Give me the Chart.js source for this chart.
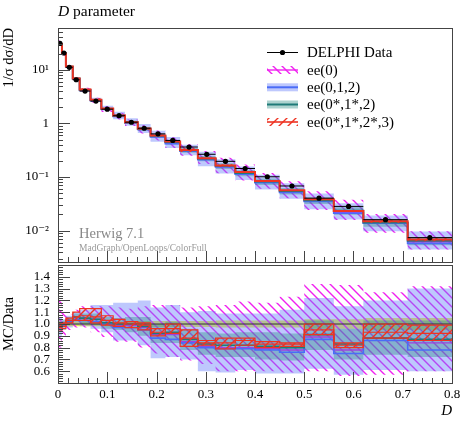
<!DOCTYPE html>
<html>
<head>
<meta charset="utf-8">
<script src="https://cdn.jsdelivr.net/npm/chart.js@4.4.0/dist/chart.umd.min.js"></script>
<style>
  body { margin: 0; background: #fff; }
  #main { position: absolute; left: 0; top: 0; width: 467px; height: 266px; }
  #ratio { position: absolute; left: 0; top: 260px; width: 467px; height: 162px; }
</style>
</head>
<body>
<div id="main"><canvas id="mainCanvas"></canvas></div>
<div id="ratio"><canvas id="ratioCanvas"></canvas></div>
<script>
// bin edges of the D parameter histogram
const edges = [0, 0.008, 0.016, 0.030, 0.044, 0.066, 0.088, 0.112, 0.136, 0.162, 0.188,
               0.218, 0.248, 0.284, 0.320, 0.360, 0.400, 0.450, 0.500, 0.560, 0.620, 0.710, 0.800];

// DELPHI data, 1/sigma dsigma/dD and relative error
const delphi = [31, 20.5, 11.1, 6.5, 4.0, 2.6, 1.84, 1.39, 1.05, 0.81, 0.637,
                0.48, 0.362, 0.265, 0.196, 0.144, 0.101, 0.068, 0.0403, 0.0283, 0.016, 0.0074];
const delphiErr = [0.03, 0.02, 0.02, 0.02, 0.02, 0.02, 0.02, 0.02, 0.02, 0.025, 0.025,
                   0.025, 0.025, 0.025, 0.03, 0.03, 0.03, 0.03, 0.04, 0.04, 0.05, 0.05];

// MC / Data ratios (central, band low, band high)
const ee0Ratio = [0.99, 1.0, 1.02, 1.04, 1.05, 1.04, 1.01, 0.99, 0.99, 0.97, 0.91,
                  0.91, 0.85, 0.81, 0.8, 0.8, 0.79, 0.78, 0.89, 0.78, 0.88, 0.84];
const ee0Lo = [0.8, 0.9, 0.95, 0.97, 0.97, 0.93, 0.89, 0.85, 0.85, 0.8, 0.75,
               0.72, 0.69, 0.66, 0.6, 0.6, 0.6, 0.59, 0.6, 0.56, 0.57, 0.6];
const ee0Hi = [1.21, 1.1, 1.08, 1.12, 1.15, 1.15, 1.15, 1.14, 1.13, 1.15, 1.16,
               1.16, 1.14, 1.15, 1.16, 1.19, 1.18, 1.23, 1.34, 1.33, 1.27, 1.32];

const ee012Ratio = [0.97, 0.99, 1.02, 1.04, 1.03, 1.02, 1.0, 0.97, 0.97, 0.95, 0.88,
                    0.87, 0.84, 0.8, 0.79, 0.79, 0.78, 0.76, 0.87, 0.75, 0.86, 0.78];
const ee012Lo = [0.9, 0.95, 0.97, 0.99, 0.98, 0.96, 0.93, 0.86, 0.86, 0.82, 0.71,
                 0.72, 0.7, 0.6, 0.59, 0.61, 0.58, 0.58, 0.62, 0.57, 0.61, 0.6];
const ee012Hi = [1.06, 1.04, 1.07, 1.1, 1.12, 1.16, 1.16, 1.18, 1.18, 1.2, 1.14,
                 1.16, 1.1, 1.11, 1.09, 1.09, 1.09, 1.12, 1.22, 1.15, 1.2, 1.3];

const ee012sRatio = [0.98, 1.0, 1.03, 1.06, 1.05, 1.04, 1.01, 1.0, 1.0, 0.98, 0.92,
                     0.93, 0.87, 0.83, 0.82, 0.82, 0.81, 0.8, 0.91, 0.83, 0.88, 0.87];
const ee012sLo = [0.95, 0.97, 1.0, 1.02, 1.0, 0.99, 0.96, 0.95, 0.93, 0.9, 0.84,
                  0.84, 0.78, 0.74, 0.72, 0.72, 0.7, 0.69, 0.78, 0.7, 0.74, 0.72];
const ee012sHi = [1.01, 1.03, 1.06, 1.09, 1.09, 1.09, 1.06, 1.05, 1.06, 1.06, 1.0,
                  1.02, 0.96, 0.93, 0.92, 0.93, 0.93, 0.92, 1.03, 0.96, 1.03, 1.03];

const ee0123Ratio = [0.97, 0.98, 1.03, 1.06, 1.07, 1.06, 1.03, 1.01, 1.0, 0.99, 0.93,
                     0.96, 0.88, 0.84, 0.84, 0.86, 0.83, 0.83, 0.95, 0.82, 0.93, 0.92];
const ee0123Lo = [0.95, 0.96, 1.01, 1.03, 1.03, 1.01, 0.99, 0.98, 0.97, 0.95, 0.9,
                  0.92, 0.81, 0.82, 0.79, 0.82, 0.8, 0.81, 0.91, 0.8, 0.88, 0.86];
const ee0123Hi = [1.0, 1.01, 1.05, 1.1, 1.13, 1.13, 1.07, 1.04, 1.02, 1.01, 0.96,
                  1.0, 0.95, 0.86, 0.88, 0.88, 0.85, 0.84, 1.0, 0.84, 1.0, 0.99];

const legendLabels = ['DELPHI Data', 'ee(0)', 'ee(0,1,2)', 'ee(0*,1*,2)', 'ee(0*,1*,2*,3)'];

const FONT = "'Liberation Serif', 'DejaVu Serif', serif";
Chart.defaults.font.family = FONT;
Chart.defaults.font.size = 13;
Chart.defaults.color = '#000';

const MAGENTA = '#f020f0', BLUE = '#4a6cf7', TEAL = '#1f7a78', RED = '#ee3322';
const BLUE_BAND = 'rgba(100,125,250,0.42)', TEAL_BAND = 'rgba(40,140,130,0.38)';

function hatch(color, dir, size, width) {
    const c = document.createElement('canvas');
    c.width = size; c.height = size;
    const g = c.getContext('2d');
    g.strokeStyle = color; g.lineWidth = width;
    g.beginPath();
    if (dir > 0) {
        g.moveTo(0, size); g.lineTo(size, 0);
        g.moveTo(-size/2, size/2); g.lineTo(size/2, -size/2);
        g.moveTo(size/2, size*1.5); g.lineTo(size*1.5, size/2);
    } else {
        g.moveTo(0, 0); g.lineTo(size, size);
        g.moveTo(-size/2, size/2); g.lineTo(size/2, size*1.5);
        g.moveTo(size/2, -size/2); g.lineTo(size*1.5, size/2);
    }
    g.stroke();
    return g.createPattern(c, 'repeat');
}
const magHatch = hatch(MAGENTA, -1, 9, 1.4);
const redHatch = hatch(RED, 1, 9, 1.4);

function steps(vals) {
    let pts = vals.map((v, i) => ({x: edges[i], y: v}));
    pts.push({x: edges[edges.length - 1], y: vals[vals.length - 1]});
    return pts;
}
function histLine(vals, color, width, order) {
    return {data: steps(vals), borderColor: color, borderWidth: width, pointRadius: 0,
            stepped: true, fill: false, order: order};
}
function histBand(lo, hi, fillStyle, order, edge) {
    return [
        {data: steps(lo), borderColor: edge || 'rgba(0,0,0,0)', borderWidth: edge ? 1.2 : 0,
         pointRadius: 0, stepped: true, fill: false, order: order},
        {data: steps(hi), borderColor: edge || 'rgba(0,0,0,0)', borderWidth: edge ? 1.2 : 0,
         pointRadius: 0, stepped: true, fill: '-1', backgroundColor: fillStyle, order: order}
    ];
}

// inward ticks and frame
function drawFrame(chart, yTicks) {
    const {ctx, chartArea: a, scales} = chart;
    ctx.save();
    ctx.strokeStyle = '#444';
    ctx.lineWidth = 1;
    ctx.beginPath();
    for (let i = 0; i <= 40; i++) {
        const px = Math.round(scales.x.getPixelForValue(i * 0.02)) + 0.5;
        const len = i % 5 === 0 ? 11 : 5;
        ctx.moveTo(px, a.bottom); ctx.lineTo(px, a.bottom - len);
    }
    yTicks.forEach(t => {
        const py = Math.round(scales.y.getPixelForValue(t.v)) + 0.5;
        if (py < a.top || py > a.bottom) return;
        ctx.moveTo(a.left, py); ctx.lineTo(a.left + (t.major ? 12 : 5), py);
    });
    ctx.stroke();
    ctx.strokeRect(Math.round(a.left) + 0.5, Math.round(a.top) + 0.5,
                   Math.round(a.right - a.left), Math.round(a.bottom - a.top));
    ctx.restore();
}

const logTicks = [];
for (let n = -3; n <= 1; n++) for (let d = 1; d <= 9; d++) logTicks.push({v: d * Math.pow(10, n), major: d === 1});
const linTicks = [];
for (let i = 25; i <= 75; i++) linTicks.push({v: i * 0.02, major: i % 5 === 0});

function drawLegend(ctx) {
    const x0 = 267, x1 = 298, tx = 307, ys = [52.5, 70, 87.3, 104.5, 122];
    ctx.save();
    ctx.strokeStyle = '#000'; ctx.lineWidth = 1;
    ctx.beginPath(); ctx.moveTo(x0, ys[0]); ctx.lineTo(x1, ys[0]); ctx.stroke();
    ctx.fillStyle = '#000'; ctx.beginPath(); ctx.arc((x0 + x1) / 2, ys[0], 2.6, 0, 2 * Math.PI); ctx.fill();
    const sym = [[magHatch, MAGENTA, 1.4], [BLUE_BAND, BLUE, 2], [TEAL_BAND, TEAL, 2], [redHatch, RED, 1.6]];
    sym.forEach((s, i) => {
        const y = ys[i + 1];
        ctx.fillStyle = s[0]; ctx.fillRect(x0, y - 4, x1 - x0, 8);
        ctx.strokeStyle = s[1]; ctx.lineWidth = s[2];
        ctx.beginPath(); ctx.moveTo(x0, y); ctx.lineTo(x1, y); ctx.stroke();
    });
    ctx.fillStyle = '#000'; ctx.font = '15px ' + FONT; ctx.textBaseline = 'middle';
    legendLabels.forEach((l, i) => ctx.fillText(l, tx, ys[i] + 1));
    ctx.restore();
}

const mainDecor = {
    id: 'mainDecor',
    afterDraw(chart) {
        const ctx = chart.ctx;
        drawFrame(chart, logTicks);
        ctx.save();
        ctx.fillStyle = '#000'; ctx.textBaseline = 'alphabetic';
        ctx.font = 'italic 15.5px ' + FONT;
        ctx.fillText('D', 58, 16);
        const w = ctx.measureText('D').width;
        ctx.font = '15.5px ' + FONT;
        ctx.fillText(' parameter', 58 + w, 16);
        ctx.fillStyle = '#888'; ctx.font = '14.5px ' + FONT;
        ctx.fillText('Herwig 7.1', 79, 237.5);
        ctx.fillStyle = '#999'; ctx.font = '9.5px ' + FONT;
        ctx.fillText('MadGraph/OpenLoops/ColorFull', 79, 250.5);
        ctx.restore();
        drawLegend(ctx);
    }
};
const ratioDecor = {
    id: 'ratioDecor',
    afterDraw(chart) { drawFrame(chart, linTicks); }
};

function logLabel(v) {
    const l = Math.log10(v);
    if (Math.abs(l - Math.round(l)) > 1e-6) return '';
    const sup = {'-2': '10⁻²', '-1': '10⁻¹', '0': '1', '1': '10¹'};
    return sup[Math.round(l)] || '';
}

// keep the frame where the layout puts it, labels may overhang
function fixWidth(s) {
    s.width = 58;
    s.paddingTop = 0; s.paddingBottom = 0;
}

const centers = edges.slice(0, -1).map((e, i) => (e + edges[i + 1]) / 2);
const hBars = [], vBars = [];
delphi.forEach((v, i) => {
    hBars.push({x: edges[i], y: v}, {x: edges[i + 1], y: v}, {x: edges[i + 1], y: null});
    vBars.push({x: centers[i], y: v * (1 - delphiErr[i])}, {x: centers[i], y: v * (1 + delphiErr[i])}, {x: centers[i], y: null});
});

const scaled = r => r.map((v, i) => v * delphi[i]);

new Chart(document.getElementById('mainCanvas'), {
    type: 'line',
    data: {
        datasets: [
            ...histBand(scaled(ee0Lo), scaled(ee0Hi), magHatch, 90),
            ...histBand(scaled(ee012Lo), scaled(ee012Hi), BLUE_BAND, 80),
            ...histBand(scaled(ee012sLo), scaled(ee012sHi), TEAL_BAND, 70),
            ...histBand(scaled(ee0123Lo), scaled(ee0123Hi), redHatch, 30),
            histLine(scaled(ee0Ratio), MAGENTA, 1.4, 60),
            histLine(scaled(ee012Ratio), BLUE, 1.8, 50),
            histLine(scaled(ee012sRatio), TEAL, 1.8, 40),
            histLine(scaled(ee0123Ratio), RED, 2, 20),
            {data: hBars, borderColor: '#000', borderWidth: 1, pointRadius: 0, spanGaps: false, order: 5},
            {data: vBars, borderColor: '#000', borderWidth: 1, pointRadius: 0, spanGaps: false, order: 5},
            {data: delphi.map((v, i) => ({x: centers[i], y: v})), showLine: false,
             pointRadius: 2.6, pointBackgroundColor: '#000', pointBorderWidth: 0, order: 1}
        ]
    },
    options: {
        responsive: true, maintainAspectRatio: false, animation: false, events: [],
        layout: {padding: {top: 28, right: 15, bottom: 1, left: 0}},
        plugins: {legend: {display: false}, tooltip: {enabled: false}},
        scales: {
            x: {type: 'linear', min: 0, max: 0.8, display: false},
            y: {
                type: 'logarithmic', min: 0.0026, max: 60,
                afterFit: fixWidth,
                grid: {display: false, drawTicks: false}, border: {display: false},
                ticks: {autoSkip: false, padding: 9, callback: logLabel},
                title: {display: true, text: '1/σ dσ/dD', align: 'end', padding: 0, font: {size: 14.5}}
            }
        }
    },
    plugins: [mainDecor]
});

const ones = delphi.map(() => 1);
new Chart(document.getElementById('ratioCanvas'), {
    type: 'line',
    data: {
        datasets: [
            ...histBand(delphiErr.map(e => 1 - e), delphiErr.map(e => 1 + e), 'rgba(238,238,50,0.9)', 100),
            ...histBand(ee0Lo, ee0Hi, magHatch, 90),
            ...histBand(ee012Lo, ee012Hi, BLUE_BAND, 80),
            ...histBand(ee012sLo, ee012sHi, TEAL_BAND, 70),
            histLine(ones, '#333', 1, 65),
            histLine(ee0Ratio, '#a040e0', 1.4, 60),
            histLine(ee012Ratio, BLUE, 1.6, 50),
            histLine(ee012sRatio, TEAL, 1.6, 40),
            ...histBand(ee0123Lo, ee0123Hi, redHatch, 30, RED),
            histLine(ee0123Ratio, RED, 1.2, 20)
        ]
    },
    options: {
        responsive: true, maintainAspectRatio: false, animation: false, events: [],
        layout: {padding: {top: 5, right: 15, bottom: 2, left: 0}},
        plugins: {legend: {display: false}, tooltip: {enabled: false}},
        scales: {
            x: {
                type: 'linear', min: 0, max: 0.8,
                afterFit: s => { s.height = 37; s.paddingLeft = 0; s.paddingRight = 0; },
                grid: {display: false, drawTicks: false}, border: {display: false},
                ticks: {stepSize: 0.1, padding: 4, callback: v => v === 0 ? '0' : v.toFixed(1)},
                title: {display: true, text: 'D', align: 'end', padding: 0, font: {size: 15, style: 'italic'}}
            },
            y: {
                min: 0.5, max: 1.5,
                afterFit: fixWidth,
                grid: {display: false, drawTicks: false}, border: {display: false},
                ticks: {stepSize: 0.1, autoSkip: false, padding: 8,
                        callback: v => (v < 0.55 || v > 1.45) ? '' : v.toFixed(1)},
                title: {display: true, text: 'MC/Data', padding: 0, font: {size: 14.5}}
            }
        }
    },
    plugins: [ratioDecor]
});
</script>
</body>
</html>
